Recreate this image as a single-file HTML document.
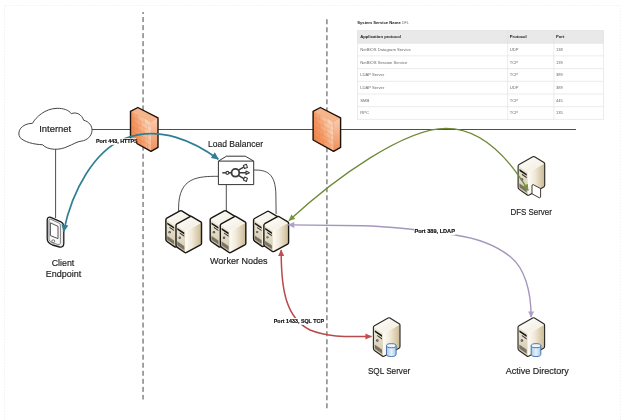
<!DOCTYPE html>
<html>
<head>
<meta charset="utf-8">
<title>Network Diagram</title>
<style>
  html, body { margin: 0; padding: 0; background: #ffffff; }
  body { width: 624px; height: 420px; overflow: hidden; font-family: "Liberation Sans", sans-serif; }
  svg { display: block; position: absolute; left: 0; top: 0; }
  text { font-family: "Liberation Sans", sans-serif; }
  .lbl { fill: #1e1e1e; font-size: 9.6px; stroke: #1e1e1e; stroke-width: 0.18px; }
  .port { fill: #0a0a0a; font-size: 5.5px; font-weight: bold; stroke: #0a0a0a; stroke-width: 0.15px; }
  .tt { fill: #6a6a6a; font-size: 4.15px; }
  .th { fill: #222222; font-size: 4.2px; font-weight: bold; }
</style>
</head>
<body>
<svg width="624" height="420" viewBox="0 0 624 420" style="will-change: transform;">
  <defs>
    <linearGradient id="gSide" x1="0" y1="0" x2="1" y2="0">
      <stop offset="0" stop-color="#fdfbf5"/>
      <stop offset="0.4" stop-color="#f1e9d8"/>
      <stop offset="1" stop-color="#c9b892"/>
    </linearGradient>
    <linearGradient id="gFront" x1="0" y1="0" x2="0" y2="1">
      <stop offset="0" stop-color="#efe9d8"/>
      <stop offset="1" stop-color="#d2c8ae"/>
    </linearGradient>
    <linearGradient id="gTop" x1="0" y1="0" x2="1" y2="1">
      <stop offset="0" stop-color="#ffffff"/>
      <stop offset="1" stop-color="#f0eadb"/>
    </linearGradient>
    <linearGradient id="gWall" x1="0" y1="0.9" x2="1" y2="0.25">
      <stop offset="0" stop-color="#ee7a3c"/>
      <stop offset="0.45" stop-color="#f29a66"/>
      <stop offset="0.85" stop-color="#f9d3b8"/>
      <stop offset="1" stop-color="#f6c09c"/>
    </linearGradient>
    <linearGradient id="gWallSide" x1="0" y1="0" x2="0" y2="1">
      <stop offset="0" stop-color="#f9ceb2"/>
      <stop offset="1" stop-color="#f08e58"/>
    </linearGradient>
    <linearGradient id="gDb" x1="0" y1="0" x2="1" y2="0">
      <stop offset="0" stop-color="#a9c9e8"/>
      <stop offset="0.5" stop-color="#e6f1fb"/>
      <stop offset="1" stop-color="#a9c9e8"/>
    </linearGradient>

    <!-- isometric server, origin top-left of bounding box, 27.7 x 40 -->
    <g id="server">
      <g stroke="none">
      <path d="M0.6,10.4 Q0.6,9.3 1.6,8.7 L15.3,1 Q16.2,0.5 17.1,1 L26.4,6.7 Q27.2,7.2 27.2,8.2 L27.2,29.4 Q27.2,30.6 26.2,31.2 L11.7,39.1 Q10.5,39.8 9.4,39 L2,33.8 Q0.6,32.8 0.6,31.2 Z" fill="#efe8d6"/>
      <path d="M0.8,9.3 L15.3,1 Q16.2,0.5 17.1,1 L27,7.2 L10.5,16.4 Z" fill="url(#gTop)"/>
      <path d="M0.6,9.6 L10.5,16.4 L10.5,39.4 L2,33.8 Q0.6,32.8 0.6,31.2 Z" fill="url(#gFront)"/>
      <path d="M10.5,16.4 L27.2,7.5 L27.2,29.4 Q27.2,30.6 26.2,31.2 L10.5,39.6 Z" fill="url(#gSide)"/>
      <path d="M2,13.2 L9.2,18.1 L9.2,20 L2,15.1 Z" fill="#141414"/>
      <path d="M4.4,17.9 L9.2,21.2 L9.2,22.4 L4.4,19.1 Z" fill="#2c2c2c"/>
      <circle cx="4.5" cy="23.6" r="1.25" fill="#4a4a4a"/>
      <circle cx="4.5" cy="23.6" r="0.45" fill="#d8d2c2"/>
      <path d="M2,27.4 L9.2,32.4 L9.2,36.8 L2,31.8 Z" fill="#8a8373"/>
      </g>
      <path d="M2,28.9 L9.2,33.9 M2,30.3 L9.2,35.3" stroke="#5a5549" stroke-width="0.5" fill="none"/>
      <path d="M10.5,16.4 L10.5,39.8 M0.6,9.3 L10.5,16.4 L27.2,7.2" stroke="#fffdf4" stroke-width="0.7" fill="none" opacity="0.9"/>
      <path d="M0.6,10.4 Q0.6,9.3 1.6,8.7 L15.3,1 Q16.2,0.5 17.1,1 L26.4,6.7 Q27.2,7.2 27.2,8.2 L27.2,29.4 Q27.2,30.6 26.2,31.2 L11.7,39.1 Q10.5,39.8 9.4,39 L2,33.8 Q0.6,32.8 0.6,31.2 Z" fill="none" stroke-linejoin="round"/>
    </g>

    <!-- database cylinder 9 x 12 -->
    <g id="db">
      <path d="M0.5,2.2 L0.5,9.8 A4,2 0 0 0 8.5,9.8 L8.5,2.2 Z" fill="url(#gDb)" stroke="#3f6fa8" stroke-width="0.8"/>
      <ellipse cx="4.5" cy="2.2" rx="4" ry="1.8" fill="#eef6fd" stroke="#3f6fa8" stroke-width="0.8"/>
    </g>

    <!-- firewall 28.5 x 45 -->
    <g id="fw">
      <path d="M0.5,4.3 L7.8,0.5 L28,10.8 L28,40.4 L21,44.4 L0.5,33 Z" fill="#f08a4a"/>
      <path d="M0.5,4.3 L21,14.8 L21,44.4 L0.5,33 Z" fill="url(#gWall)"/>
      <path d="M21,14.8 L28,10.8 L28,40.4 L21,44.4 Z" fill="url(#gWallSide)"/>
      <path d="M0.5,4.3 L7.8,0.5 L28,10.8 L21,14.8 Z" fill="#f6b68c"/>
      <g stroke="#e8743a" stroke-width="0.5" fill="none" opacity="0.5">
        <path d="M0.5,9.1 L21,19.6 M0.5,13.9 L21,24.4 M0.5,18.7 L21,29.2 M0.5,23.5 L21,34 M0.5,28.3 L21,38.8"/>
        <path d="M7,7.6 L7,12.4 M14,11.2 L14,16 M3.5,10.6 L3.5,15.4 M10.5,14.2 L10.5,19 M17.5,17.8 L17.5,22.6 M7,17.2 L7,22 M14,20.8 L14,25.6 M3.5,20.2 L3.5,25 M10.5,23.8 L10.5,28.6 M17.5,27.4 L17.5,32.2 M7,26.8 L7,31.6 M14,30.4 L14,35.2 M3.5,29.8 L3.5,34.6 M10.5,33.4 L10.5,38.2 M17.5,37 L17.5,41.8"/>
      </g>
      <path d="M0.5,4.3 L7.8,0.5 L28,10.8 L28,40.4 L21,44.4 L0.5,33 Z" fill="none" stroke="#1f1108" stroke-width="1.4" stroke-linejoin="round"/>
    </g>

    <marker id="aBlue" viewBox="0 0 10 10" refX="9.2" refY="5" markerUnits="userSpaceOnUse" markerWidth="8" markerHeight="7.4" orient="auto-start-reverse"><path d="M0,0.3 L10,5 L0,9.7 Z" fill="#2e7f93"/></marker>
    <marker id="aGreen" viewBox="0 0 10 10" refX="9.2" refY="5" markerUnits="userSpaceOnUse" markerWidth="7" markerHeight="6.4" orient="auto-start-reverse"><path d="M0,0.3 L10,5 L0,9.7 Z" fill="#77933c"/></marker>
    <marker id="aPurple" viewBox="0 0 10 10" refX="9.2" refY="5" markerUnits="userSpaceOnUse" markerWidth="7" markerHeight="6.4" orient="auto-start-reverse"><path d="M0,0.3 L10,5 L0,9.7 Z" fill="#b0a0c8"/></marker>
    <marker id="aRed" viewBox="0 0 10 10" refX="9.2" refY="5" markerUnits="userSpaceOnUse" markerWidth="7" markerHeight="6.6" orient="auto-start-reverse"><path d="M0,0.3 L10,5 L0,9.7 Z" fill="#c0504d"/></marker>
  </defs>

  <!-- faint page frame -->
  <rect x="4.5" y="5.5" width="615.8" height="420" fill="none" stroke="#f1f1f1" stroke-width="1" stroke-dasharray="1.5 1.5"/>

  <!-- thin connector lines -->
  <g stroke="#3a3a3a" stroke-width="0.9" fill="none">
    <path d="M92,129.5 L576,129.5"/>
    <path d="M55.6,149 L55.6,218"/>
    <path d="M218.4,176.3 C198,176.3 178.6,177 178.6,208 L178.6,212"/>
    <path d="M226.3,185 L226.3,212"/>
    <path d="M253.7,170 C266,170 275.8,172 275.9,196 L276.1,214"/>
  </g>

  <!-- dashed boundaries -->
  <path d="M143.05,12 L143.05,399.5" stroke="#333333" stroke-width="0.9" stroke-dasharray="5 3.04" stroke-dashoffset="3" fill="none"/>
  <path d="M326.9,19.3 L326.9,409" stroke="#7d7d7d" stroke-width="1.4" stroke-dasharray="5 3" fill="none"/>

  <!-- table -->
  <g id="table">
    <text class="th" x="357.2" y="24.4">System Service Name <tspan font-weight="normal" fill="#666" font-size="3.6">DFL</tspan></text>
    <rect x="357.5" y="30.5" width="246" height="12.7" fill="#e9e9e9"/>
    <g stroke="#dedede" stroke-width="0.6" fill="none">
      <path d="M357.5,30.5 L603.5,30.5 M357.5,43.2 L603.5,43.2 M357.5,55.9 L603.5,55.9 M357.5,68.6 L603.5,68.6 M357.5,81.3 L603.5,81.3 M357.5,94.0 L603.5,94.0 M357.5,106.7 L603.5,106.7 M357.5,119.4 L603.5,119.4"/>
      <path d="M357.5,30.5 L357.5,119.8 M507.7,30.5 L507.7,119.8 M553.9,30.5 L553.9,119.8 M603.5,30.5 L603.5,119.8"/>
    </g>
    <text class="th" x="360.2" y="38.2">Application protocol</text>
    <text class="th" x="509.8" y="38.2">Protocol</text>
    <text class="th" x="556" y="38.2">Port</text>
    <g class="tt">
      <text x="360.2" y="50.9">NetBIOS Datagram Service</text><text x="509.8" y="50.9">UDP</text><text x="556" y="50.9">138</text>
      <text x="360.2" y="63.6">NetBIOS Session Service</text><text x="509.8" y="63.6">TCP</text><text x="556" y="63.6">139</text>
      <text x="360.2" y="76.3">LDAP Server</text><text x="509.8" y="76.3">TCP</text><text x="556" y="76.3">389</text>
      <text x="360.2" y="89.0">LDAP Server</text><text x="509.8" y="89.0">UDP</text><text x="556" y="89.0">389</text>
      <text x="360.2" y="101.7">SMB</text><text x="509.8" y="101.7">TCP</text><text x="556" y="101.7">445</text>
      <text x="360.2" y="114.4">RPC</text><text x="509.8" y="114.4">TCP</text><text x="556" y="114.4">135</text>
    </g>
  </g>

  <!-- cloud -->
  <path id="cloud" d="M32.5,123.3 C36,117 45,108.6 57,108.3 C63,108.2 69,110 71.3,113.7 C76,111.5 82,114.5 83.6,120.2 C89,121.5 92.3,126 92,130.5 C91.8,136 87,140.5 81.4,141.1 C77,141.5 73,144.5 68,146.3 C60,150.5 48,150.5 42.5,144.7 C34,144.5 24,142 20,137.5 C16.5,132 21,123.5 32.5,123.3 Z" fill="#ffffff" stroke="#3c3c3c" stroke-width="0.95"/>

  <!-- load balancer -->
  <g id="lb">
    <path d="M218.4,161.1 L226.5,156.2 L245.3,156.2 L253.7,161.1 L253.7,184.6 L218.4,184.6 Z" fill="#ffffff" stroke="#333333" stroke-width="1" stroke-linejoin="round"/>
    <path d="M218.4,161.1 L253.7,161.1" stroke="#333333" stroke-width="1"/>
    <g stroke="#3c3c3c" fill="#ffffff">
      <path d="M222.3,172.8 L231,172.8" stroke-width="1.5"/>
      <circle cx="227.4" cy="172.8" r="1.5" stroke-width="1.2"/>
      <path d="M238.4,170.2 L244.6,166.6 M239.6,172.8 L247,172.8 M238.4,175.4 L244.6,179.2" fill="none" stroke-width="1.5"/>
      <circle cx="235.4" cy="172.8" r="3.9" stroke-width="1.8"/>
      <path d="M243.4,165.6 L246.4,164.2 L247.4,167.4 L244.6,168.6 Z M246,171 L249.4,172.8 L246,174.6 Z M243.4,180 L246.4,181.4 L247.4,178.2 L244.6,177 Z" stroke-width="1.1" stroke-linejoin="round"/>
    </g>
  </g>

  <!-- worker nodes -->
  <g id="workers" stroke="#1a1815" stroke-width="1.5">
    <use href="#server" transform="translate(165.3,210) scale(0.96,0.94)"/>
    <use href="#server" transform="translate(175.4,215.6) scale(0.96,0.94)"/>
    <use href="#server" transform="translate(209.6,210) scale(0.96,0.94)"/>
    <use href="#server" transform="translate(219.7,215.6) scale(0.96,0.94)"/>
    <use href="#server" transform="translate(253,210.6) scale(0.93,0.91)"/>
    <use href="#server" transform="translate(263.3,215.8) scale(0.93,0.91)"/>
  </g>

  <!-- phone -->
  <g id="phone">
    <path d="M47.2,220 C47.2,217.6 48.8,216.5 50.8,217.3 L60.4,221.6 C62.6,222.6 63.8,224.4 63.8,226.8 L63.8,243.6 C63.8,246.4 62,247.6 59.6,247 L52.4,245 C49.4,244 47.2,241.6 47.2,238.6 Z" fill="#ececec" stroke="#1c1c1c" stroke-width="1.3" stroke-linejoin="round"/>
    <path d="M49,220.8 C49,219.4 49.9,218.9 51,219.4 L58.6,222.9 C59.8,223.5 60.4,224.4 60.4,225.8 L60.4,242.6 C60.4,244.2 59.4,244.9 58,244.5 L52.6,242.9 C50.4,242.2 49,240.6 49,238.6 Z" fill="#f8f8f8" stroke="#3a3a3a" stroke-width="0.6"/>
    <path d="M50.4,222.8 L58,226.4 L58,238.6 L50.4,235.6 Z" fill="#ffffff" stroke="#2a2a2a" stroke-width="0.8" stroke-linejoin="round"/>
    <ellipse cx="53.2" cy="241.2" rx="1.6" ry="1.3" fill="#ffffff" stroke="#2a2a2a" stroke-width="0.6"/>
  </g>

  <!-- servers on the right -->
  <use href="#server" transform="translate(517.5,155.8)" stroke="#2e2b27" stroke-width="1.15"/>
  <path d="M532,185.2 L533.2,184.6 L540.6,188.6 L540.6,197.2 L539.4,197.8 L532,193.8 Z" fill="#ffffff" stroke="#2a2622" stroke-width="0.9" stroke-linejoin="round"/>

  <use href="#server" transform="translate(372.8,317)" stroke="#2e2b27" stroke-width="1.15"/>
  <use href="#db" transform="translate(385.9,343.2) scale(1.2,1.13)"/>

  <use href="#server" transform="translate(517.4,317)" stroke="#2e2b27" stroke-width="1.15"/>
  <use href="#db" transform="translate(530.6,343.2) scale(1.2,1.13)"/>

  <!-- firewalls -->
  <use href="#fw" transform="translate(130,107)"/>
  <use href="#fw" transform="translate(312.6,107)"/>

  <!-- coloured flows -->
  <g fill="none" stroke-linecap="butt">
    <path d="M63.6,231.6 C72,190 95,150 125,138.5 C160,125 195,142 218.3,159.2" stroke="#2e7f93" stroke-width="1.7" marker-start="url(#aBlue)" marker-end="url(#aBlue)"/>
    <path d="M289,220.6 C336,177 405,128.3 446,128.3 C480,128.3 507.5,156 528.2,190.3" stroke="#6f8a38" stroke-width="1.3" marker-start="url(#aGreen)" marker-end="url(#aGreen)"/>
    <path d="M288.4,224.9 L363,225.8 C395,226.6 428,231 455,235 C478,238.4 498,246.5 511,257.3 C524,268 531.2,290 531.1,317.3" stroke="#a497bd" stroke-width="1.4" marker-start="url(#aPurple)" marker-end="url(#aPurple)"/>
    <path d="M281.2,250 C281,290 286,318 310,330 C330,338 350,336.5 371.5,336.5" stroke="#b9494a" stroke-width="1.5" marker-start="url(#aRed)" marker-end="url(#aRed)"/>
  </g>

  <!-- port labels -->
  <rect x="95.6" y="138.3" width="40.6" height="6.5" fill="#ffffff"/>
  <text class="port" x="96" y="142.9" textLength="41.7" lengthAdjust="spacingAndGlyphs">Port 443, HTTPS</text>
  <rect x="414" y="228.4" width="41.4" height="6.8" fill="#ffffff"/>
  <text class="port" x="414.4" y="233.4" textLength="40.5" lengthAdjust="spacingAndGlyphs">Port 389, LDAP</text>
  <rect x="273.2" y="318" width="51.2" height="6.8" fill="#ffffff"/>
  <text class="port" x="273.8" y="323.2" textLength="50.2" lengthAdjust="spacingAndGlyphs">Port 1433, SQL TCP</text>

  <!-- labels -->
  <text class="lbl" x="39.2" y="131.5" textLength="32" lengthAdjust="spacingAndGlyphs">Internet</text>
  <text class="lbl" x="208" y="147.0" textLength="55" lengthAdjust="spacingAndGlyphs">Load Balancer</text>
  <text class="lbl" x="210" y="263.5" textLength="57.5" lengthAdjust="spacingAndGlyphs">Worker Nodes</text>
  <text class="lbl" x="51.7" y="265.8" textLength="22.6" lengthAdjust="spacingAndGlyphs">Client</text>
  <text class="lbl" x="45.7" y="277.0" textLength="35.5" lengthAdjust="spacingAndGlyphs">Endpoint</text>
  <text class="lbl" x="510.4" y="214.6" textLength="41.5" lengthAdjust="spacingAndGlyphs">DFS Server</text>
  <text class="lbl" x="367.9" y="373.5" textLength="42.3" lengthAdjust="spacingAndGlyphs">SQL Server</text>
  <text class="lbl" x="505.7" y="373.5" textLength="63" lengthAdjust="spacingAndGlyphs">Active Directory</text>
</svg>
</body>
</html>
